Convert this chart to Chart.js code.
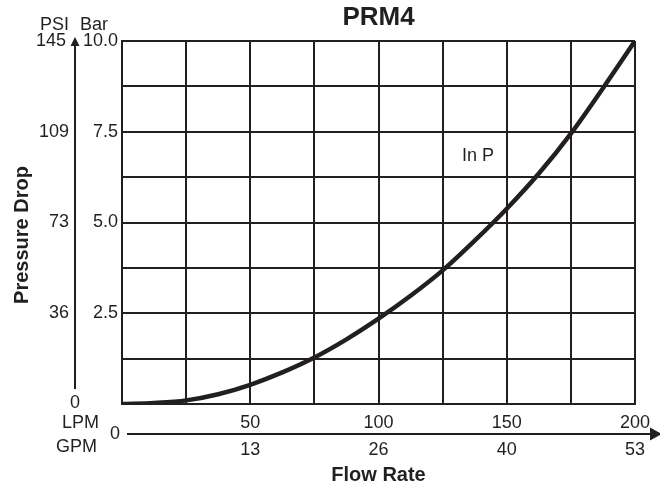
<!DOCTYPE html>
<html>
<head>
<meta charset="utf-8">
<script src="https://cdn.jsdelivr.net/npm/chart.js@4.4.1/dist/chart.umd.min.js"></script>
<style>
  html, body { margin: 0; padding: 0; background: #fff; }
  #wrap { width: 660px; height: 488px; }
</style>
</head>
<body>
<div id="wrap"><canvas id="myChart" width="660" height="488"></canvas></div>
<script>
// flow rate (LPM) and pressure drop (bar)
const flowLpm = [0, 12.5, 25, 37.5, 50, 62.5, 75, 87.5, 100, 112.5, 125, 137.5, 150, 162.5, 175, 187.5, 200];
const dropBar = [0, 0.03, 0.1, 0.27, 0.53, 0.87, 1.28, 1.78, 2.35, 2.98, 3.68, 4.5, 5.38, 6.35, 7.45, 8.7, 10.0];

// tick labels
const barTicks = [10, 7.5, 5, 2.5];
const barLabels = ["10.0", "7.5", "5.0", "2.5"];
const psiTicks = [10, 7.5, 5, 2.5, 0];
const psiLabels = ["145", "109", "73", "36", "0"];
const lpmTicks = [50, 100, 150, 200];
const lpmLabels = ["50", "100", "150", "200"];
const gpmLabels = ["13", "26", "40", "53"];

const ink = "#231f20";
const font = "'Liberation Sans', Arial, Helvetica, sans-serif";

const points = flowLpm.map((q, i) => ({ x: q, y: dropBar[i] }));

const labelsPlugin = {
  id: "labels",
  afterDraw(chart) {
    const ctx = chart.ctx;
    const xs = chart.scales.x;
    const ys = chart.scales.y;
    const area = chart.chartArea;
    ctx.save();
    ctx.fillStyle = ink;
    ctx.strokeStyle = ink;

    // title
    ctx.font = "bold 26px " + font;
    ctx.textAlign = "center";
    ctx.textBaseline = "middle";
    ctx.fillText("PRM4", (area.left + area.right) / 2, 18);

    // unit headers
    ctx.font = "18px " + font;
    ctx.textAlign = "left";
    ctx.fillText("PSI", 40, 25);
    ctx.fillText("Bar", 80, 25);

    // bar labels
    ctx.textAlign = "right";
    for (let i = 0; i < barTicks.length; i++) {
      ctx.fillText(barLabels[i], 118, ys.getPixelForValue(barTicks[i]));
    }
    // psi labels
    for (let i = 0; i < psiTicks.length; i++) {
      if (psiTicks[i] == 0) {
        ctx.textAlign = "center";
        ctx.fillText(psiLabels[i], 75, ys.getPixelForValue(0) - 1);
      } else {
        ctx.textAlign = "right";
        ctx.fillText(psiLabels[i], i == 0 ? 66 : 69, ys.getPixelForValue(psiTicks[i]));
      }
    }

    // y arrow
    ctx.lineWidth = 2;
    ctx.beginPath();
    ctx.moveTo(75, 389);
    ctx.lineTo(75, 44);
    ctx.stroke();
    ctx.beginPath();
    ctx.moveTo(75, 37);
    ctx.lineTo(79.5, 46);
    ctx.lineTo(70.5, 46);
    ctx.closePath();
    ctx.fill();

    // x arrow
    ctx.beginPath();
    ctx.moveTo(127, 434);
    ctx.lineTo(652, 434);
    ctx.stroke();
    ctx.beginPath();
    ctx.moveTo(662, 434);
    ctx.lineTo(650, 427.5);
    ctx.lineTo(650, 440.5);
    ctx.closePath();
    ctx.fill();

    // x labels
    ctx.textAlign = "center";
    ctx.fillText("0", 115, 434);
    for (let i = 0; i < lpmTicks.length; i++) {
      const px = xs.getPixelForValue(lpmTicks[i]);
      ctx.fillText(lpmLabels[i], px, 423);
      ctx.fillText(gpmLabels[i], px, 450);
    }
    ctx.textAlign = "right";
    ctx.fillText("LPM", 99, 423);
    ctx.fillText("GPM", 97, 447);

    // curve label
    ctx.textAlign = "left";
    ctx.fillText("In P", 462, 156);

    // axis titles
    ctx.font = "bold 20px " + font;
    ctx.textAlign = "center";
    ctx.fillText("Flow Rate", (area.left + area.right) / 2, 475);
    ctx.save();
    ctx.translate(22, 235);
    ctx.rotate(-Math.PI / 2);
    ctx.fillText("Pressure Drop", 0, 0);
    ctx.restore();

    ctx.restore();
  },
};

new Chart(document.getElementById("myChart").getContext("2d"), {
  type: "line",
  data: {
    datasets: [
      {
        label: "In P",
        data: points,
        borderColor: ink,
        borderWidth: 4.5,
        pointRadius: 0,
        cubicInterpolationMode: "monotone",
        fill: false,
      },
    ],
  },
  options: {
    responsive: false,
    animation: false,
    layout: { padding: { left: 122, top: 41, right: 25, bottom: 84 } },
    plugins: { legend: { display: false }, tooltip: { enabled: false } },
    scales: {
      x: {
        type: "linear",
        min: 0,
        max: 200,
        ticks: { display: false, stepSize: 25 },
        grid: { color: ink, lineWidth: 2, drawTicks: false },
        border: { display: true, color: ink, width: 2 },
      },
      y: {
        type: "linear",
        min: 0,
        max: 10,
        ticks: { display: false, stepSize: 1.25 },
        grid: { color: ink, lineWidth: 2, drawTicks: false },
        border: { display: true, color: ink, width: 2 },
      },
    },
  },
  plugins: [labelsPlugin],
});
</script>
</body>
</html>
